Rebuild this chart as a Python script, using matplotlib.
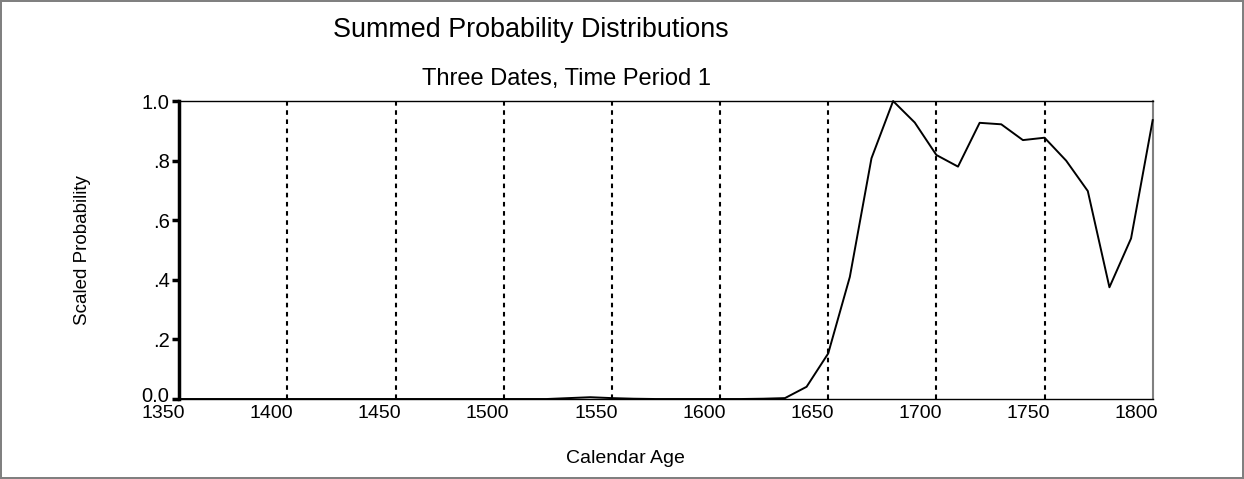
import numpy as np
import matplotlib
matplotlib.use("Agg")
import matplotlib.pyplot as plt
from matplotlib.transforms import ScaledTranslation

plt.rcParams["font.family"] = ["Liberation Sans", "DejaVu Sans"]

# summed probability, one value every 10 years
years = np.arange(1350, 1801, 10)
prob = [0.0, 0.0, 0.0, 0.0, 0.0, 0.0, 0.0, 0.0, 0.0, 0.0,
        0.0, 0.0, 0.0, 0.0, 0.0, 0.0, 0.0, 0.0, 0.003, 0.006,
        0.003, 0.001, 0.0, 0.0, 0.0, 0.0, 0.0, 0.001, 0.003, 0.041,
        0.153, 0.41, 0.808, 1.0, 0.928, 0.819, 0.78, 0.927, 0.922, 0.869,
        0.877, 0.80, 0.698, 0.375, 0.539, 0.936]

x_ticks = [1350, 1400, 1450, 1500, 1550, 1600, 1650, 1700, 1750, 1800]
y_ticks = [0.0, 0.2, 0.4, 0.6, 0.8, 1.0]
y_labels = ["0.0", ".2", ".4", ".6", ".8", "1.0"]

fig = plt.figure(figsize=(12.44, 4.79), dpi=100, facecolor="white",
                 edgecolor="#808080", linewidth=1.5)
ax = fig.add_axes([0.1441, 0.167, 0.7825, 0.622])

ax.plot(years, prob, color="black", lw=1.4, clip_on=False, zorder=3)

for x in x_ticks[1:-1]:
    ax.axvline(x, color="black", lw=1.5, ls=(0, (2.2, 2.2)), zorder=2)

ax.set_xlim(1350, 1800)
ax.set_ylim(0, 1)
ax.set_xticks(x_ticks)
ax.set_yticks(y_ticks)
ax.set_yticklabels(y_labels)

ax.tick_params(axis="x", length=0, pad=4, labelsize=14)
ax.tick_params(axis="y", direction="out", length=5, width=2.5, pad=2, labelsize=14.5)

ax.spines["left"].set_linewidth(2.5)
ax.spines["top"].set_linewidth(1.0)
ax.spines["bottom"].set_linewidth(1.0)
ax.spines["right"].set_linewidth(1.5)
ax.spines["right"].set_color("#808080")

# the x labels sit a bit left of their grid lines in the original
shift = ScaledTranslation(-16 / 100, 0, fig.dpi_scale_trans)
for lab in ax.get_xticklabels():
    lab.set_transform(lab.get_transform() + shift)
# and the "0.0" label sits a little above the axis line
lab0 = ax.get_yticklabels()[0]
lab0.set_transform(lab0.get_transform() + ScaledTranslation(0, 5 / 100, fig.dpi_scale_trans))

fig.text(0.4265, 0.937, "Summed Probability Distributions", fontsize=19.4,
         ha="center", va="center")
fig.text(0.4552, 0.835, "Three Dates, Time Period 1", fontsize=17,
         ha="center", va="center")
fig.text(0.503, 0.042, "Calendar Age", fontsize=14, ha="center", va="center")
fig.text(0.066, 0.478, "Scaled Probability", fontsize=13.5, ha="center",
         va="center", rotation=90)

fig.savefig("out.png", dpi=100, edgecolor=fig.get_edgecolor())
